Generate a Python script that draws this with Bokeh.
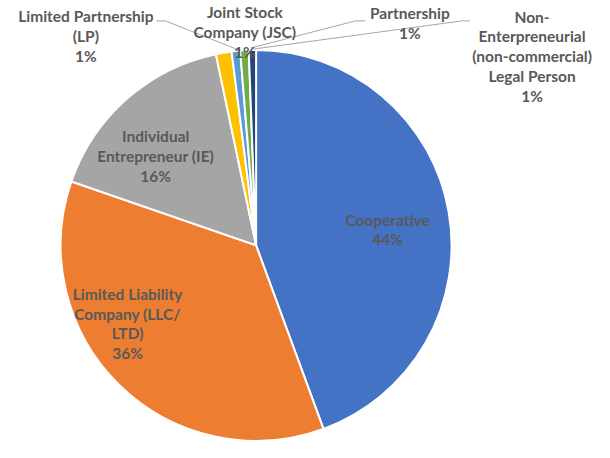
import math
from bokeh.plotting import figure
from bokeh.models import Range1d, ColumnDataSource
from bokeh.core.properties import value
from bokeh.embed import file_html
from bokeh.resources import INLINE

# ---- data ----
categories = [
    "Cooperative",
    "Limited Liability\nCompany (LLC/\nLTD)",
    "Individual\nEntrepreneur (IE)",
    "Limited Partnership\n(LP)",
    "Joint Stock\nCompany (JSC)",
    "Partnership",
    "Non-\nEnterpreneurial\n(non-commercial)\nLegal Person",
]
shares = [44.4, 35.9, 16.4, 1.3, 0.7, 0.7, 0.6]
colors = ["#4472C4", "#ED7D31", "#A5A5A5", "#FFC000", "#5B9BD5", "#70AD47", "#264478"]

# ---- layout (reference image pixel coords, scaled to fit) ----
W, H = 594, 442
S = 0.97
X0, Y0 = -8, 2
def Y(img_y):
    return -img_y

cx, cy, r = 255.5, Y(254.5), 201.5
label_pos = [(391, 238), (123, 335), (152, 162.5), (80, 38.5), (244, 34.5), (414, 25), (540, 59.5)]
leaders = [
    [(153, 23), (162, 23), (235, 52)],
    [(368, 23), (358, 23), (250, 51)],
    [(476, 23), (468, 23), (253, 52)],
]

total = sum(shares)
starts, ends = [], []
cum = 0.0
for s in shares:
    starts.append(math.pi / 2 - 2 * math.pi * cum / total)
    cum += s
    ends.append(math.pi / 2 - 2 * math.pi * cum / total)

src = ColumnDataSource(dict(start=starts, end=ends, color=colors))

p = figure(width=W, height=H, output_backend="svg", toolbar_location=None,
           x_range=Range1d(X0, X0 + W / S), y_range=Range1d(-(Y0 + H / S), -Y0),
           min_border=0, outline_line_color=None)
p.axis.visible = False
p.grid.visible = False
p.background_fill_color = "white"

p.wedge(x=cx, y=cy, radius=r, start_angle="start", end_angle="end",
        direction="clock", fill_color="color", line_color="white", line_width=2,
        source=src)

for pts in leaders:
    p.line([q[0] for q in pts], [Y(q[1]) for q in pts], line_color="#A6A6A6", line_width=1)

texts = [f"{c}\n{round(s)}%" for c, s in zip(categories, shares)]
lsrc = ColumnDataSource(dict(x=[q[0] for q in label_pos], y=[Y(q[1]) for q in label_pos], t=texts))
p.text(x="x", y="y", text="t", source=lsrc, text_align="center", text_baseline="middle",
       text_font=value("Lato"), text_font_style="bold", text_font_size="15.5px",
       text_color="#595959", text_line_height=1.1)

open("out.html", "w").write(file_html(p, INLINE))
